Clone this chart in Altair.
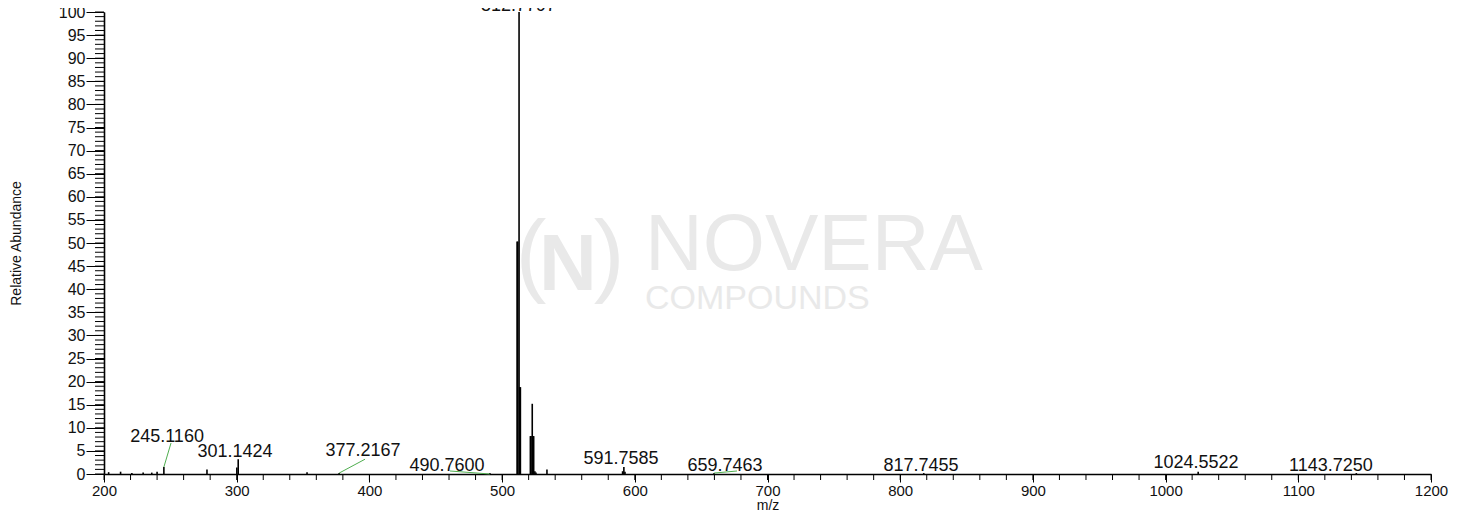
import altair as alt
import pandas as pd

# ---- spectrum peaks (m/z, relative abundance) ----
peak_mz = [203.5, 212.5, 221.0, 229.5, 236.0, 240.0, 245.12, 277.6, 300.1, 301.14,
           353.0, 377.22, 490.76, 511.3, 511.78, 512.78, 513.3, 513.78,
           521.3, 521.8, 522.72, 523.3, 523.8, 524.7, 525.5, 533.8,
           590.8, 591.76, 592.6, 659.75, 817.75, 1024.55, 1143.73]
peak_ab = [0.4, 0.5, 0.2, 0.3, 0.3, 0.5, 1.5, 1.0, 1.4, 3.2,
           0.4, 0.2, 0.2, 50.3, 50.3, 100.0, 18.8, 18.8,
           8.2, 8.2, 15.2, 8.2, 8.2, 0.6, 0.3, 1.0,
           0.6, 1.5, 0.5, 0.2, 0.2, 0.5, 0.2]

# ---- peak annotations ----
label_text = ["245.1160", "301.1424", "377.2167", "490.7600", "591.7585",
              "659.7463", "817.7455", "1024.5522", "1143.7250"]
label_mz = [247.5, 298.7, 395.2, 458.5, 589.6, 668.0, 815.7, 1022.9, 1124.6]
label_ab = [8.0, 4.76, 5.0, 1.73, 3.25, 1.73, 1.73, 2.4, 1.73]

top_label_text = ["512.7797"]
top_label_mz = [512.4]
top_label_ab = [100.2]

# ---- leader lines from labels to peaks ----
conn_mz1 = [245.12, 377.22, 490.76, 659.75]
conn_ab1 = [1.5, 0.2, 0.0, 0.2]
conn_mz2 = [250.5, 396.7, 460.7, 677.0]
conn_ab2 = [6.7, 3.2, 0.65, 0.65]

# ---- axis ticks ----
x_major = list(range(200, 1201, 100))
x_minor = list(range(200, 1201, 20))
y_major = list(range(0, 101, 5))
y_minor = list(range(0, 101, 1))

FONT = "Liberation Sans"
W, H = 1327, 462
WM = "#e9e9e9"

peaks = pd.DataFrame({"mz": peak_mz, "ab": peak_ab})
labels = pd.DataFrame({"t": label_text, "mz": label_mz, "ab": label_ab})
top_labels = pd.DataFrame({"t": top_label_text, "mz": top_label_mz, "ab": top_label_ab})
conns = pd.DataFrame({"x1": conn_mz1, "y1": conn_ab1, "x2": conn_mz2, "y2": conn_ab2})

xscale = alt.Scale(domain=[200, 1200], nice=False, zero=False)
yscale = alt.Scale(domain=[0, 100], nice=False, zero=True)

x_axis = alt.Axis(values=x_major, format="d", tickSize=8, labelPadding=1, labelFontSize=15,
                  labelFont=FONT, labelColor="#111", title="m/z", titleFont=FONT,
                  titleFontSize=14, titleFontWeight="normal", titleColor="#111",
                  titleX=W / 2, titleY=35, titleBaseline="alphabetic", titleAlign="center",
                  grid=False, domainColor="black", domainWidth=1.6,
                  tickColor="black", tickWidth=1, labelFlush=False)
y_axis = alt.Axis(values=y_major, tickSize=18, labelPadding=1, labelFontSize=16,
                  labelFont=FONT, labelColor="#111", title="Relative Abundance",
                  titleFont=FONT, titleFontSize=14, titleFontWeight="normal",
                  titleColor="#111", titleX=-88, titleY=H / 2, titleAngle=-90,
                  titleBaseline="middle", titleAlign="center",
                  grid=False, domainColor="black", domainWidth=1.6,
                  tickColor="black", tickWidth=1, labelFlush=False)


def X(field):
    return alt.X(field, type="quantitative", scale=xscale, axis=x_axis)


def Y(field):
    return alt.Y(field, type="quantitative", scale=yscale, axis=y_axis)


# ---- watermark (decoration) ----
wm_lp = alt.Chart(pd.DataFrame({"t": ["("]})).mark_text(
    font=FONT, fontSize=92, color=WM, align="center", baseline="alphabetic").encode(
    x=alt.value(427), y=alt.value(273), text="t:N")
wm_rp = alt.Chart(pd.DataFrame({"t": [")"]})).mark_text(
    font=FONT, fontSize=92, color=WM, align="center", baseline="alphabetic").encode(
    x=alt.value(505), y=alt.value(273), text="t:N")
wm_n = alt.Chart(pd.DataFrame({"t": ["N"]})).mark_text(
    font=FONT, fontSize=80, color=WM, align="center", baseline="alphabetic",
    fontWeight="bold").encode(x=alt.value(464), y=alt.value(278), text="t:N")
wm_name = alt.Chart(pd.DataFrame({"t": ["NOVERA"]})).mark_text(
    font=FONT, fontSize=80, color=WM, align="left", baseline="alphabetic").encode(
    x=alt.value(541), y=alt.value(258), text="t:N")
wm_sub = alt.Chart(pd.DataFrame({"t": ["COMPOUNDS"]})).mark_text(
    font=FONT, fontSize=34, color=WM, align="left", baseline="alphabetic").encode(
    x=alt.value(541), y=alt.value(297), text="t:N")

spectrum = alt.Chart(peaks).mark_rule(color="black", strokeWidth=1.6).encode(
    x=X("mz"), y=Y("ab"), y2=alt.datum(0))

# minor ticks drawn from the tick arrays
minor_y = alt.Chart(pd.DataFrame({"v": y_minor})).mark_rule(color="black", strokeWidth=1).encode(
    y=Y("v"), x=alt.value(-9), x2=alt.value(0))
minor_x = alt.Chart(pd.DataFrame({"v": x_minor})).mark_rule(color="black", strokeWidth=1).encode(
    x=X("v"), y=alt.value(H), y2=alt.value(H + 6))

leaders = alt.Chart(conns).mark_rule(color="#4fae4f", strokeWidth=1).encode(
    x=X("x1"), y=Y("y1"), x2="x2:Q", y2="y2:Q")

texts = alt.Chart(labels).mark_text(font=FONT, fontSize=18, color="#111",
                                    align="center", baseline="middle").encode(
    x=X("mz"), y=Y("ab"), text="t:N")

top_text = alt.Chart(top_labels).mark_text(font=FONT, fontSize=18, color="#111",
                                           align="center", baseline="alphabetic").encode(
    x=X("mz"), y=Y("ab"), text="t:N")

chart = alt.layer(
    wm_lp, wm_rp, wm_n, wm_name, wm_sub, spectrum, minor_y, minor_x, leaders, texts, top_text
).properties(
    width=W, height=H,
    background="white",
    autosize=alt.AutoSizeParams(type="none"),
    padding={"left": 96, "top": 4, "right": 30, "bottom": 37},
).configure_view(strokeWidth=0)

chart.save("out.html", embed_options={"renderer": "svg", "actions": False})
